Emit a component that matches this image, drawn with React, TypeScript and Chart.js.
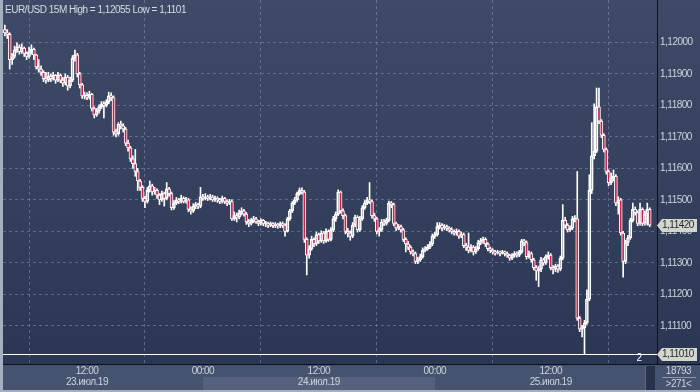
import React, { useEffect, useRef } from "react";
import { Chart, registerables } from "chart.js";

Chart.register(...registerables);

const symbol = "EUR/USD";
const timeframe = "15M";
const firstOpen = 1.1204;

const closes = [
  1.1203, 1.12025, 1.11945, 1.11955, 1.11975, 1.11985, 1.1197, 1.11982, 1.11965, 1.11955,
  1.1197, 1.11978, 1.1196, 1.11922, 1.11915, 1.11905, 1.11885, 1.1188, 1.11892, 1.11885,
  1.11895, 1.1188, 1.11895, 1.1188, 1.1187, 1.1189, 1.11862, 1.1188, 1.1195, 1.1196,
  1.119, 1.11865, 1.1183, 1.11832, 1.11825, 1.11835, 1.1179, 1.1177, 1.11782, 1.11795,
  1.11805, 1.118, 1.1181, 1.1183, 1.11825, 1.11715, 1.1171, 1.1174, 1.11735, 1.11725,
  1.1168, 1.11665, 1.1163, 1.11615, 1.1159, 1.1156, 1.1154, 1.11505, 1.11495, 1.1153,
  1.11545, 1.11525, 1.1153, 1.11515, 1.115, 1.1152, 1.11505, 1.11535, 1.1152, 1.11475,
  1.1149, 1.115, 1.11495, 1.11505, 1.11495, 1.115, 1.1147, 1.11465, 1.1148, 1.11485,
  1.1148, 1.1151, 1.11505, 1.1151, 1.11505, 1.1151, 1.115, 1.11505, 1.115, 1.11495,
  1.11505, 1.11495, 1.1149, 1.11495, 1.1144, 1.1145, 1.11445, 1.1146, 1.11465, 1.11455,
  1.1143, 1.11425, 1.11435, 1.1144, 1.1143, 1.11425, 1.11435, 1.11425, 1.11425, 1.1142,
  1.11425, 1.11418, 1.11422, 1.11418, 1.11425, 1.1142, 1.114, 1.1144, 1.11465, 1.1149,
  1.115, 1.1152, 1.1153, 1.11525, 1.11375, 1.11325, 1.11345, 1.11375, 1.1136, 1.1139,
  1.1137, 1.11395, 1.1137, 1.114, 1.11375, 1.11405, 1.1144, 1.11455, 1.11525, 1.11465,
  1.1145, 1.114, 1.11395, 1.11385, 1.1142, 1.11445, 1.11405, 1.1144, 1.11475, 1.1149,
  1.115, 1.11495, 1.1145, 1.1144, 1.114, 1.11405, 1.1143, 1.11425, 1.11435, 1.1149,
  1.11485, 1.11425, 1.1141, 1.11415, 1.11405, 1.11375, 1.1136, 1.1135, 1.11335, 1.1133,
  1.11305, 1.1131, 1.1132, 1.1134, 1.11345, 1.1135, 1.1136, 1.11385, 1.1139, 1.11415,
  1.1142, 1.1141, 1.11415, 1.1141, 1.11405, 1.114, 1.11395, 1.114, 1.11385, 1.1139,
  1.11355, 1.1135, 1.1134, 1.1135, 1.11335, 1.11345, 1.11365, 1.1137, 1.11375, 1.1136,
  1.11345, 1.1134, 1.11335, 1.11332, 1.11335, 1.1133, 1.11335, 1.1133, 1.11325, 1.11315,
  1.11325, 1.1133, 1.11325, 1.11335, 1.1137, 1.11365, 1.1132, 1.1133, 1.1131, 1.11285,
  1.11275, 1.1128, 1.1131, 1.113, 1.1132, 1.11325, 1.11285, 1.1128, 1.1129, 1.1128,
  1.11315, 1.11435, 1.1142, 1.11405, 1.1141, 1.1144, 1.1144, 1.11125, 1.1109, 1.11095,
  1.1111, 1.11185, 1.1153, 1.1164, 1.11655, 1.11795, 1.1175, 1.11705, 1.1166, 1.1159,
  1.11555, 1.1157, 1.11575, 1.1149, 1.115, 1.11395, 1.11305, 1.11365, 1.1138, 1.11435,
  1.1147, 1.1146, 1.11425, 1.1147, 1.11425, 1.11455, 1.1147, 1.1142,
];

const highs = [
  1.12055, 1.1204, 1.1203, 1.11965, 1.11988, 1.11998, 1.11992, 1.11995, 1.11985, 1.1197,
  1.11985, 1.11992, 1.11982, 1.11962, 1.11945, 1.11925, 1.1191, 1.11905, 1.11905, 1.119,
  1.11905, 1.11898, 1.11905, 1.119, 1.11888, 1.119, 1.11895, 1.1189, 1.11958, 1.11975,
  1.11965, 1.11905, 1.1187, 1.11842, 1.1184, 1.11845, 1.11838, 1.11795, 1.1179, 1.11802,
  1.11812, 1.11812, 1.11818, 1.11842, 1.1184, 1.1183, 1.11725, 1.11745, 1.1175, 1.11742,
  1.1173, 1.1169, 1.1167, 1.1164, 1.1166, 1.116, 1.11565, 1.11545, 1.11512, 1.1154,
  1.1156, 1.1155, 1.1154, 1.11535, 1.1152, 1.11528, 1.11525, 1.11555, 1.1154, 1.11525,
  1.11498, 1.11508, 1.11505, 1.11515, 1.1151, 1.11508, 1.11505, 1.11478, 1.11488, 1.11492,
  1.1149, 1.1154, 1.11518, 1.1152, 1.11515, 1.11518, 1.11515, 1.11512, 1.1151, 1.11505,
  1.11512, 1.11508, 1.115, 1.11502, 1.115, 1.11462, 1.11458, 1.11468, 1.11475, 1.1147,
  1.1146, 1.11438, 1.11442, 1.11448, 1.11445, 1.11435, 1.1144, 1.11438, 1.11432, 1.1143,
  1.1143, 1.11428, 1.11428, 1.11426, 1.1143, 1.1143, 1.11425, 1.11445, 1.1147, 1.11495,
  1.11508, 1.11525, 1.11538, 1.11538, 1.1153, 1.1138, 1.11355, 1.11385, 1.1138, 1.11398,
  1.11395, 1.11402, 1.114, 1.11408, 1.11405, 1.11412, 1.11448, 1.11462, 1.11532, 1.11528,
  1.11472, 1.11455, 1.1141, 1.11402, 1.11428, 1.11452, 1.1145, 1.11448, 1.11482, 1.11498,
  1.11508, 1.11555, 1.115, 1.11458, 1.11445, 1.11412, 1.11438, 1.11438, 1.11442, 1.11496,
  1.11495, 1.1149, 1.1143, 1.11422, 1.1142, 1.1141, 1.1138, 1.11368, 1.11355, 1.11342,
  1.11335, 1.11318, 1.11328, 1.11348, 1.11352, 1.11358, 1.11368, 1.11392, 1.11398, 1.11428,
  1.11428, 1.11425, 1.11422, 1.1142, 1.11415, 1.11412, 1.11405, 1.11408, 1.11405, 1.11398,
  1.11395, 1.11362, 1.11395, 1.11358, 1.11355, 1.11352, 1.11372, 1.11378, 1.11382, 1.1138,
  1.11365, 1.1135, 1.11345, 1.1134, 1.1134, 1.11338, 1.1134, 1.11338, 1.11335, 1.11328,
  1.1133, 1.11336, 1.11335, 1.1134, 1.11375, 1.11375, 1.1137, 1.11338, 1.11335, 1.11315,
  1.11292, 1.1129, 1.11318, 1.11315, 1.11326, 1.11335, 1.1133, 1.11292, 1.11296, 1.11295,
  1.11322, 1.11485, 1.11445, 1.11425, 1.11418, 1.11448, 1.1145, 1.1159, 1.1113, 1.11102,
  1.11118, 1.11215, 1.1158, 1.11745, 1.11805, 1.11855, 1.11855, 1.11755, 1.1171, 1.11665,
  1.11595, 1.11585, 1.11595, 1.1158, 1.1151, 1.11505, 1.114, 1.11372, 1.11388, 1.11442,
  1.1149, 1.11478, 1.11465, 1.1149, 1.11475, 1.11465, 1.1149, 1.11475,
];

const lows = [
  1.1202, 1.12012, 1.11915, 1.1193, 1.1195, 1.11968, 1.11962, 1.11965, 1.11955, 1.11945,
  1.1195, 1.11962, 1.11945, 1.11915, 1.11905, 1.11895, 1.11875, 1.1187, 1.11875, 1.11875,
  1.1188, 1.1187, 1.11875, 1.11872, 1.1186, 1.11865, 1.11848, 1.11855, 1.11875, 1.1194,
  1.1189, 1.11855, 1.11822, 1.1182, 1.11818, 1.1182, 1.11782, 1.1176, 1.11765, 1.11775,
  1.1179, 1.1176, 1.11795, 1.11805, 1.11815, 1.11705, 1.117, 1.11705, 1.11725, 1.11715,
  1.11672, 1.11655, 1.11622, 1.116, 1.11575, 1.1153, 1.1153, 1.11495, 1.11475, 1.1149,
  1.11525, 1.11515, 1.11518, 1.11505, 1.11485, 1.11495, 1.1148, 1.115, 1.11512, 1.11468,
  1.1147, 1.11485, 1.11488, 1.1149, 1.1149, 1.1149, 1.11462, 1.11455, 1.1146, 1.11472,
  1.11472, 1.11475, 1.11498, 1.115, 1.11498, 1.115, 1.11495, 1.11495, 1.11492, 1.11488,
  1.1149, 1.11488, 1.11482, 1.11485, 1.11435, 1.11435, 1.1143, 1.1144, 1.11452, 1.11448,
  1.11422, 1.11415, 1.1142, 1.11428, 1.11425, 1.11418, 1.1142, 1.11418, 1.11415, 1.11412,
  1.11415, 1.11412, 1.11412, 1.1141, 1.11412, 1.11412, 1.11385, 1.11398, 1.11435, 1.1146,
  1.11485, 1.11495, 1.11515, 1.11518, 1.11365, 1.11262, 1.11315, 1.1134, 1.11352, 1.11355,
  1.11362, 1.11365, 1.11362, 1.11365, 1.11368, 1.1137, 1.114, 1.11432, 1.1145, 1.11458,
  1.1144, 1.11392, 1.11382, 1.11372, 1.1138, 1.11415, 1.11398, 1.114, 1.11435, 1.1147,
  1.11485, 1.11488, 1.11442, 1.11432, 1.11392, 1.11385, 1.114, 1.11418, 1.1142, 1.1143,
  1.11475, 1.11418, 1.11402, 1.11405, 1.11398, 1.11368, 1.11335, 1.11342, 1.11328, 1.11322,
  1.11298, 1.11298, 1.11305, 1.11315, 1.11335, 1.1134, 1.11345, 1.11355, 1.11378, 1.11385,
  1.11408, 1.11402, 1.11405, 1.11402, 1.11398, 1.11392, 1.11388, 1.11388, 1.11378, 1.1138,
  1.11348, 1.1134, 1.11332, 1.11335, 1.11325, 1.1133, 1.1134, 1.11358, 1.11362, 1.11352,
  1.11338, 1.11332, 1.11328, 1.11325, 1.11328, 1.11322, 1.11328, 1.11322, 1.11318, 1.11308,
  1.1131, 1.11318, 1.11318, 1.1132, 1.1133, 1.11355, 1.11312, 1.11315, 1.11302, 1.11278,
  1.11245, 1.11225, 1.11272, 1.11292, 1.11295, 1.11312, 1.11278, 1.11265, 1.11272, 1.1127,
  1.11275, 1.1131, 1.1141, 1.11398, 1.114, 1.11405, 1.1143, 1.11118, 1.11082, 1.11065,
  1.1101, 1.11105, 1.1118, 1.1152, 1.1163, 1.1165, 1.11742, 1.11698, 1.11652, 1.11582,
  1.11545, 1.11548, 1.1156, 1.11482, 1.11455, 1.11388, 1.11255, 1.11298, 1.11355, 1.11375,
  1.1143, 1.11452, 1.11418, 1.1142, 1.11418, 1.1142, 1.1142, 1.11415,
];

// first bar time (minutes after midnight of the first day) and bar length
const startMinutes = 3 * 60 + 30;
const barMinutes = 15;
const dayLabels = ["23.июл.19", "24.июл.19", "25.июл.19"];
const yTicks = [1.111, 1.112, 1.113, 1.114, 1.115, 1.116, 1.117, 1.118, 1.119, 1.12];
const yMin = 1.109794;
const yMax = 1.121342;
const xMin = -0.78;
const xMax = 270.02;
const barsTotal = "18793";
const barsVisible = ">271<";
const indicatorLabel = "2";

const FONT = "'Liberation Sans', Arial, sans-serif";
const fmt5 = (v: number) => v.toFixed(5).replace(".", ",");

export default function App() {
  const ref = useRef<HTMLCanvasElement>(null);

  useEffect(() => {
    document.body.style.margin = "0";
    const canvas = ref.current;
    if (!canvas) return;

    const opens = closes.map((c, i) => (i === 0 ? firstOpen : closes[i - 1]));
    const hi = closes.map((c, i) => Math.max(highs[i] ?? c, opens[i], c));
    const lo = closes.map((c, i) => Math.min(lows[i] ?? c, opens[i], c));
    const maxHigh = Math.max(...hi);
    const minLow = Math.min(...lo);
    const lastClose = closes[closes.length - 1];
    const titleText = `${symbol} ${timeframe} High = ${String(maxHigh).replace(".", ",")} Low = ${String(minLow).replace(".", ",")}`;

    const tickDefs: { value: number; lines: string[]; dayStart: boolean; day: number }[] = [];
    closes.forEach((_, i) => {
      const m = startMinutes + i * barMinutes;
      const day = Math.floor(m / 1440);
      const mod = m % 1440;
      if (mod === 720) tickDefs.push({ value: i, lines: ["12:00", dayLabels[day]], dayStart: false, day });
      else if (mod === 0) tickDefs.push({ value: i, lines: ["00:00", ""], dayStart: true, day });
    });

    const bodies = closes.map((c, i) => ({ x: i, y: [opens[i], c] }));
    const upper = closes.map((c, i) => ({ x: i, y: [Math.max(opens[i], c), hi[i]] }));
    const lower = closes.map((c, i) => ({ x: i, y: [lo[i], Math.min(opens[i], c)] }));
    const bodyFill = closes.map((c, i) => (c < opens[i] ? "#c8224c" : "rgba(0,0,0,0)"));

    const framePlugin = {
      id: "frame",
      beforeDraw(chart: any) {
        const ctx = chart.ctx;
        const ca = chart.chartArea;
        const W = chart.width;
        const H = chart.height;
        const xs = chart.scales.x;
        ctx.save();
        ctx.fillStyle = "#a4afbf";
        ctx.fillRect(0, 0, W, H);
        const g = ctx.createLinearGradient(0, 0, 0, ca.bottom);
        g.addColorStop(0, "#3f4b66");
        g.addColorStop(1, "#2b3653");
        ctx.fillStyle = g;
        ctx.fillRect(ca.left, 0, W - ca.left, ca.bottom);
        ctx.fillStyle = "#46536e";
        ctx.fillRect(ca.left, ca.bottom, W - ca.left, H - 2 - ca.bottom);
        // alternating day bands in the date row
        const starts = tickDefs.filter((t) => t.dayStart);
        starts.forEach((t, k) => {
          if (t.day % 2 === 1) {
            const x0 = Math.max(ca.left, xs.getPixelForValue(t.value));
            const next = starts[k + 1];
            const x1 = next ? xs.getPixelForValue(next.value) : ca.right;
            ctx.fillStyle = "#56627d";
            ctx.fillRect(Math.round(x0), ca.bottom + 13, Math.round(x1) - Math.round(x0), H - 2 - (ca.bottom + 13));
          }
        });
        ctx.restore();
        ctx.letterSpacing = "-0.5px";
      },
      afterDraw(chart: any) {
        const ctx = chart.ctx;
        const ca = chart.chartArea;
        const W = chart.width;
        const H = chart.height;
        const ys = chart.scales.y;
        ctx.save();
        ctx.letterSpacing = "-0.5px";
        // low line
        const yLow = Math.round(ys.getPixelForValue(minLow)) + 0.5;
        ctx.strokeStyle = "#ffffff";
        ctx.lineWidth = 1;
        ctx.beginPath();
        ctx.moveTo(ca.left, yLow);
        ctx.lineTo(ca.right, yLow);
        ctx.stroke();
        // separators
        ctx.strokeStyle = "#0b1120";
        ctx.beginPath();
        ctx.moveTo(ca.left, ca.bottom + 0.5);
        ctx.lineTo(W, ca.bottom + 0.5);
        ctx.moveTo(ca.right + 0.5, 0);
        ctx.lineTo(ca.right + 0.5, ca.bottom);
        ctx.stroke();
        // title
        ctx.font = `10px ${FONT}`;
        ctx.fillStyle = "#d5dae3";
        ctx.textBaseline = "middle";
        ctx.textAlign = "left";
        ctx.fillText(titleText, 5, 10);
        // price markers
        const marker = (v: number) => {
          const y = Math.round(ys.getPixelForValue(v)) + 0.5;
          ctx.fillStyle = "#d3d7cb";
          ctx.beginPath();
          ctx.moveTo(ca.right, y);
          ctx.lineTo(ca.right + 5, y - 6.5);
          ctx.lineTo(W - 3, y - 6.5);
          ctx.lineTo(W - 3, y + 6.5);
          ctx.lineTo(ca.right + 5, y + 6.5);
          ctx.closePath();
          ctx.fill();
          ctx.fillStyle = "#1d2433";
          ctx.textAlign = "left";
          ctx.fillText(fmt5(v), ca.right + 5, y);
        };
        marker(lastClose);
        marker(minLow);
        // indicator label
        ctx.fillStyle = "#ffffff";
        ctx.textAlign = "center";
        ctx.fillText(indicatorLabel, ca.right - 18, ca.bottom - 6);
        // scroll handle
        ctx.fillStyle = "#27324b";
        ctx.fillRect(ca.right - 12, ca.bottom + 2, 10, H - 4 - ca.bottom);
        ctx.fillStyle = "#5b6882";
        ctx.fillRect(ca.right - 12, ca.bottom + 2, 1, H - 4 - ca.bottom);
        // bottom-right box
        const cx = (ca.right + W) / 2;
        ctx.fillStyle = "#cdd3dd";
        ctx.fillText(barsTotal, cx, ca.bottom + 7);
        ctx.strokeStyle = "#8c97aa";
        ctx.beginPath();
        ctx.moveTo(ca.right + 5, ca.bottom + 13.5);
        ctx.lineTo(W - 4, ca.bottom + 13.5);
        ctx.stroke();
        ctx.fillText(barsVisible, cx, ca.bottom + 20);
        ctx.restore();
      },
    };

    const chart = new Chart(canvas, {
      type: "bar",
      data: {
        datasets: [
          {
            data: upper as any,
            backgroundColor: "#ffffff",
            borderWidth: 0,
            barThickness: 1,
            grouped: false,
            order: 2,
          },
          {
            data: lower as any,
            backgroundColor: "#ffffff",
            borderWidth: 0,
            barThickness: 1,
            grouped: false,
            order: 2,
          },
          {
            data: bodies as any,
            backgroundColor: bodyFill,
            borderColor: "#ffffff",
            borderWidth: 1,
            borderSkipped: false,
            barThickness: 3,
            minBarLength: 1,
            grouped: false,
            order: 1,
          },
        ],
      },
      options: {
        animation: false,
        responsive: false,
        devicePixelRatio: 1,
        events: [],
        layout: { padding: { left: 3, right: 0, top: 0, bottom: 2 } },
        plugins: { legend: { display: false }, tooltip: { enabled: false } },
        scales: {
          x: {
            type: "linear",
            min: xMin,
            max: xMax,
            offset: false,
            afterBuildTicks: (s: any) => {
              s.ticks = tickDefs.map((t) => ({ value: t.value }));
            },
            afterFit: (s: any) => {
              s.height = 26;
              s.paddingLeft = 0;
              s.paddingRight = 0;
            },
            grid: { color: "rgba(130,146,172,0.55)", drawTicks: false, lineWidth: 1 },
            border: { display: false, dash: [3, 3] },
            ticks: {
              autoSkip: false,
              maxRotation: 0,
              padding: 2,
              color: "#cdd3dd",
              font: { family: FONT, size: 10, lineHeight: 1.1 },
              callback: (value: any) => {
                const t = tickDefs.find((d) => d.value === value);
                return t ? t.lines : "";
              },
            },
          },
          y: {
            type: "linear",
            position: "right",
            min: yMin,
            max: yMax,
            afterBuildTicks: (s: any) => {
              s.ticks = yTicks.map((v) => ({ value: v }));
            },
            afterFit: (s: any) => {
              s.width = 43;
              s.paddingTop = 0;
              s.paddingBottom = 0;
            },
            grid: { color: "rgba(130,146,172,0.55)", drawTicks: false, lineWidth: 1 },
            border: { display: false, dash: [3, 3] },
            ticks: {
              padding: 3,
              color: "#cdd3dd",
              font: { family: FONT, size: 10 },
              callback: (value: any) => fmt5(Number(value)),
            },
          },
        },
      },
      plugins: [framePlugin],
    } as any);

    return () => chart.destroy();
  }, []);

  return (
    <div style={{ position: "fixed", left: 0, top: 0, width: 700, height: 392 }}>
      <canvas ref={ref} width={700} height={392} style={{ display: "block" }} />
    </div>
  );
}
